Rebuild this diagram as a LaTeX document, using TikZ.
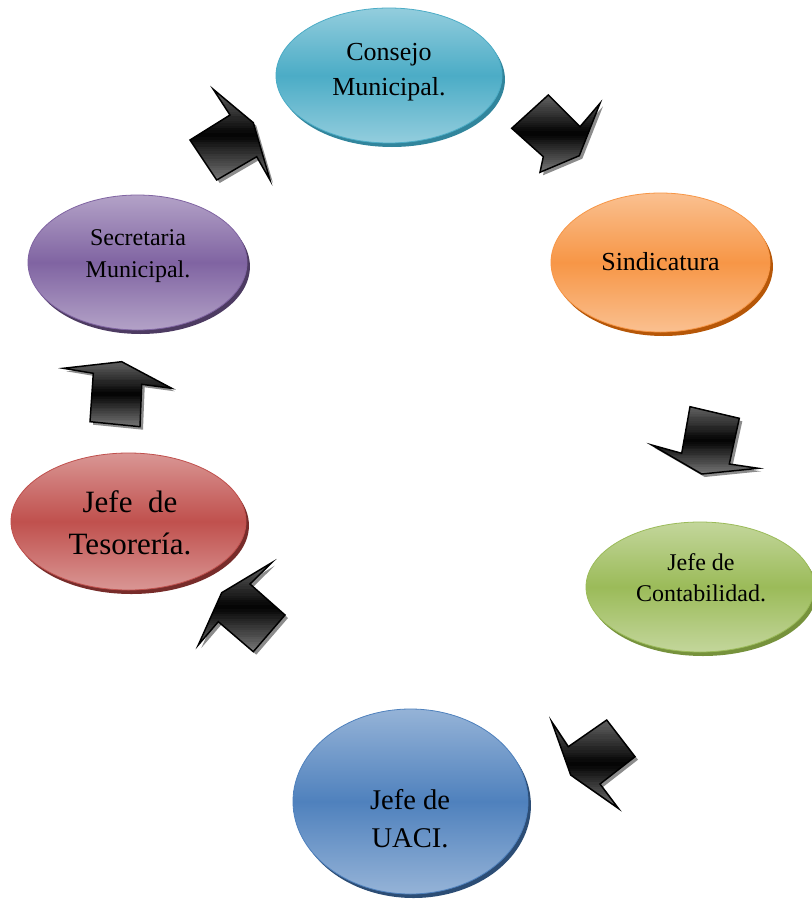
\documentclass[tikz,border=0pt]{standalone}
\usepackage{fontspec}
\setmainfont{Liberation Serif}
\usetikzlibrary{shapes.geometric,shadows}
\definecolor{aquaL}{HTML}{93CDDD}\definecolor{aquaB}{HTML}{4BACC6}\definecolor{aquaD}{HTML}{31859C}
\definecolor{oranL}{HTML}{FAC090}\definecolor{oranB}{HTML}{F79646}\definecolor{oranD}{HTML}{B65708}
\definecolor{greeL}{HTML}{C3D69B}\definecolor{greeB}{HTML}{9BBB59}\definecolor{greeD}{HTML}{76923C}
\definecolor{bluL}{HTML}{95B3D7}\definecolor{bluB}{HTML}{4F81BD}\definecolor{bluD}{HTML}{2C4D75}
\definecolor{redL}{HTML}{D99694}\definecolor{redB}{HTML}{C0504D}\definecolor{redD}{HTML}{772C2A}
\definecolor{purL}{HTML}{B3A2C7}\definecolor{purB}{HTML}{8064A2}\definecolor{purD}{HTML}{4D3B62}
\definecolor{arrshadow}{HTML}{8C8C8C}
% #1 outline points, #2 xmin, #3 xmax, #4 ymin, #5 ymax (pixel units)
\newcommand\blockarr[5]{%
  \fill[arrshadow,shift={(3,3)}] #1 -- cycle;
  \begin{scope}
    \clip #1 -- cycle;
    \foreach \i in {0,...,39}{
      \pgfmathsetmacro\myt{(\i+0.5)/40}
      \pgfmathtruncatemacro\mypc{(\myt<0.5) ? (60+80*\myt) : (100-96*(\myt-0.5))}
      \pgfmathsetmacro\mya{#4+(#5-#4)*\i/40}
      \pgfmathsetmacro\myb{#4+(#5-#4)*(\i+1)/40+0.8}
      \fill[black!\mypc] (#2,\mya) rectangle (#3,\myb);
    }
  \end{scope}
  \draw[arrowline] #1 -- cycle;}
\begin{document}
\begin{tikzpicture}[x=0.75pt,y=-0.75pt,
  oval/.style n args={3}{ellipse, draw=#2, line width=0.6pt, top color=#1, bottom color=#1,
    middle color=#2, inner sep=0pt,
    drop shadow={shadow xshift=2.2pt, shadow yshift=-3pt, fill=#3, opacity=1}},
  arrowline/.style={draw=black, line width=1.1pt, line join=miter},
  lbl/.style={align=center, inner sep=0pt, text=black}]
\useasboundingbox (0,0) rectangle (811,903);
\fill[white] (0,0) rectangle (811,903);

% ovals
\node[oval={aquaL}{aquaB}{aquaD}, minimum width=169.5pt, minimum height=101.25pt] (consejo) at (389,75.5) {};
\node[oval={oranL}{oranB}{oranD}, minimum width=164.25pt, minimum height=104.25pt] (sindic) at (660.5,262.5) {};
\node[oval={greeL}{greeB}{greeD}, minimum width=171pt, minimum height=97.5pt] (contab) at (700,587) {};
\node[oval={bluL}{bluB}{bluD}, minimum width=176.25pt, minimum height=138.75pt] (uaci) at (410.5,801.5) {};
\node[oval={redL}{redB}{redD}, minimum width=176.25pt, minimum height=102.75pt] (tesor) at (128.5,521.5) {};
\node[oval={purL}{purB}{purD}, minimum width=164.25pt, minimum height=101.25pt] (secre) at (137.5,262.5) {};

% labels
\node[lbl, font=\fontsize{19.5pt}{26.25pt}\selectfont] (tconsejo) at (389,72.5) {Consejo\\Municipal.};
\node[lbl, font=\fontsize{19.5pt}{26.25pt}\selectfont] (tsindic) at (660.5,262) {Sindicatura};
\node[lbl, font=\fontsize{18pt}{23.25pt}\selectfont] (tcontab) at (701,578) {Jefe de\\Contabilidad.};
\node[lbl, font=\fontsize{21.4pt}{28.5pt}\selectfont] (tuaci) at (410,819) {Jefe de\\UACI.};
\node[lbl, font=\fontsize{23.25pt}{31.5pt}\selectfont] (ttesor) at (130,522.5) {Jefe~~de\\Tesorería.};
\node[lbl, font=\fontsize{18pt}{24pt}\selectfont] (tsecre) at (138,256) {Secretaria\\Municipal.};

% block arrows
\blockarr{(190,140) -- (230,115) -- (213.3,89.3) -- (253.3,122.7) -- (270,180) -- (256.7,156.7) -- (216.7,180)}{188}{272}{88}{182}
\blockarr{(511.7,128.3) -- (548.3,95) -- (580,126.7) -- (600,103.3) -- (579.3,155.7) -- (540,172.3) -- (543.3,156.7)}{510}{602}{93}{174}
\blockarr{(690,406.7) -- (739.3,418.3) -- (729.3,464) -- (758.3,468.3) -- (701.7,474) -- (651.7,445) -- (681.7,453.3)}{650}{760}{405}{476}
\blockarr{(551.7,721.7) -- (568.3,746.7) -- (606.7,720) -- (635,756.7) -- (600,784) -- (618.3,808.3) -- (570.7,775)}{550}{637}{718}{810}
\blockarr{(271.7,562.7) -- (250,584) -- (285,615) -- (253.3,651.7) -- (218.3,621.7) -- (198.3,645) -- (221.7,592.7)}{196}{287}{561}{653}
\blockarr{(63.3,368.3) -- (121.7,361.7) -- (171.7,388.3) -- (141.7,384.3) -- (140,426.7) -- (90,421.7) -- (93.3,373.3)}{61}{174}{360}{428}
\end{tikzpicture}
\end{document}
